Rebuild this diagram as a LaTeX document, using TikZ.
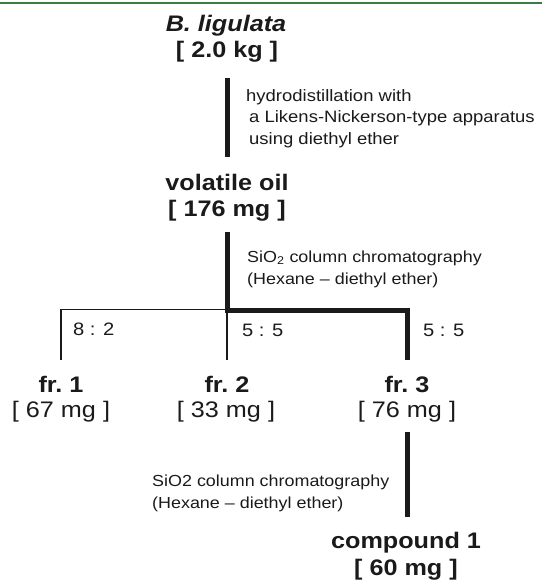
\documentclass[tikz,border=0pt]{standalone}
\usepackage{fontspec}
\setmainfont{Liberation Sans}[FakeStretch=1.12]
\definecolor{Rule}{HTML}{3C7A46}
\definecolor{Ink}{HTML}{1A1A1A}

\begin{document}
\begin{tikzpicture}[x=1pt,y=-1pt,
    title/.style={anchor=base,inner sep=0pt,font=\fontsize{22.5}{27}\selectfont\bfseries,text=Ink},
    amount/.style={anchor=base,inner sep=0pt,font=\fontsize{22.5}{27}\selectfont,text=Ink},
    note/.style={anchor=north west,inner sep=0pt,align=left,font=\fontsize{16}{22.5}\selectfont,text=Ink},
    ratio/.style={anchor=base west,inner sep=0pt,font=\fontsize{18}{21}\selectfont,text=Ink},
    heavy/.style={line width=5pt,draw=Ink},
    light/.style={line width=1.1pt,draw=Ink}
  ]
  \useasboundingbox (0,0) rectangle (542,581);
  \draw[Rule,line width=2.5pt] (0,3) -- (542,3);

  % plant material and oil
  \node[title,font=\fontsize{22.5}{27}\selectfont\bfseries\itshape] (bl) at (226,31.5) {B.\ ligulata};
  \node[title] (blm) at (227,57.5) {[ 2.0 kg ]};
  \node[title] (oil) at (227,190.5) {volatile oil};
  \node[title] (oilm) at (227,216) {[ 176 mg ]};

  % fractions
  \node[title] (fr1) at (61,392) {fr.\ 1};
  \node[amount] (fr1m) at (61,417.5) {[ 67 mg ]};
  \node[title] (fr2) at (227,392) {fr.\ 2};
  \node[amount] (fr2m) at (226,417.5) {[ 33 mg ]};
  \node[title] (fr3) at (407,392) {fr.\ 3};
  \node[amount] (fr3m) at (407,417.5) {[ 76 mg ]};
  \node[title] (cmp) at (406,548) {compound 1};
  \node[title] (cmpm) at (406,575.5) {[ 60 mg ]};

  % procedure notes
  \node[note,font=\fontsize{16.5}{21.5}\selectfont] (hydro) at (246,89)
    {hydrodistillation with\\\hspace*{3pt}a Likens-Nickerson-type apparatus\\\hspace*{3pt}using diethyl ether};
  \node[note] (col1) at (247,250.3) {SiO\textsubscript{2} column chromatography\\(Hexane – diethyl ether)};
  \node[note,font=\fontsize{16}{21.5}\selectfont] (col2) at (152,474.8) {SiO2 column chromatography\\(Hexane – diethyl ether)};
  \node[ratio] (r1) at (73,335) {8 : 2};
  \node[ratio] (r2) at (242,336.5) {5 : 5};
  \node[ratio] (r3) at (423,336.5) {5 : 5};

  % connectors
  \coordinate (fork) at (407,310);
  \coordinate (bar) at (61,309.5);
  \draw[heavy,shorten <=15.8pt,shorten >=17.1pt] (blm.south) -- (oil.north);
  \draw[light,shorten <=15.6pt,shorten >=15.6pt] (fr1.north) -- (bar) -| (fr2.north);
  \draw[heavy,shorten <=11.3pt,shorten >=15.6pt] (oilm.south) |- (fork) -- (fr3.north);
  \draw[heavy,shorten <=9.8pt,shorten >=14.6pt] (fr3m.south) -- (fr3m.south |- cmp.north);
\end{tikzpicture}
\end{document}
